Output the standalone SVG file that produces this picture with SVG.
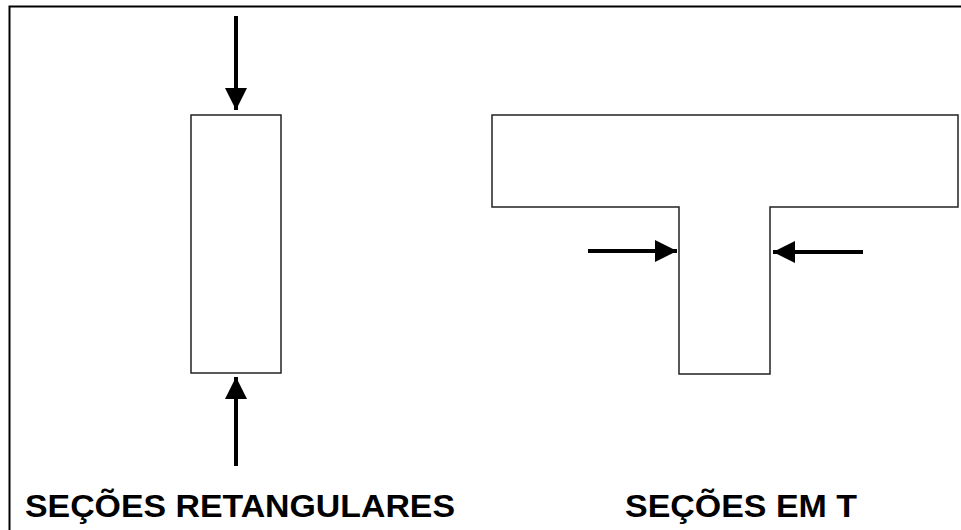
<svg xmlns="http://www.w3.org/2000/svg" width="961" height="530" viewBox="0 0 961 530">
<style>
.shape{fill:#fff;stroke:#222;stroke-width:1.5}
.arr{stroke:#000;stroke-width:4;fill:none}
.lbl{font-family:"Liberation Sans",Arial,sans-serif;font-weight:bold;font-size:32px;fill:#000}
</style>
<defs>
<marker id="ah" viewBox="0 0 10 10" refX="10" refY="5" markerWidth="5.5" markerHeight="5.5" markerUnits="strokeWidth" orient="auto">
<path d="M0,0 L10,5 L0,10 Z" fill="#000"/>
</marker>
</defs>
<rect width="961" height="530" fill="#fff"/>
<path d="M9.5,530 V6.5 H961" fill="none" stroke="#000" stroke-width="2"/>
<g id="rect-section">
<rect class="shape" x="191" y="115" width="90" height="258"/>
</g>
<g id="t-section">
<path class="shape" d="M492,115 H958 V207 H770 V374 H679 V207 H492 Z"/>
</g>
<g id="connectors">
<line class="arr" x1="236" y1="16" x2="236" y2="110" marker-end="url(#ah)"/>
<line class="arr" x1="236" y1="466" x2="236" y2="377" marker-end="url(#ah)"/>
<line class="arr" x1="588" y1="251" x2="677" y2="251" marker-end="url(#ah)"/>
<line class="arr" x1="863" y1="252" x2="773" y2="252" marker-end="url(#ah)"/>
</g>
<g id="labels">
<text class="lbl" x="25" y="517" textLength="430" lengthAdjust="spacingAndGlyphs">SEÇÕES RETANGULARES</text>
<text class="lbl" x="625" y="517" textLength="232" lengthAdjust="spacingAndGlyphs">SEÇÕES EM T</text>
</g>
</svg>
